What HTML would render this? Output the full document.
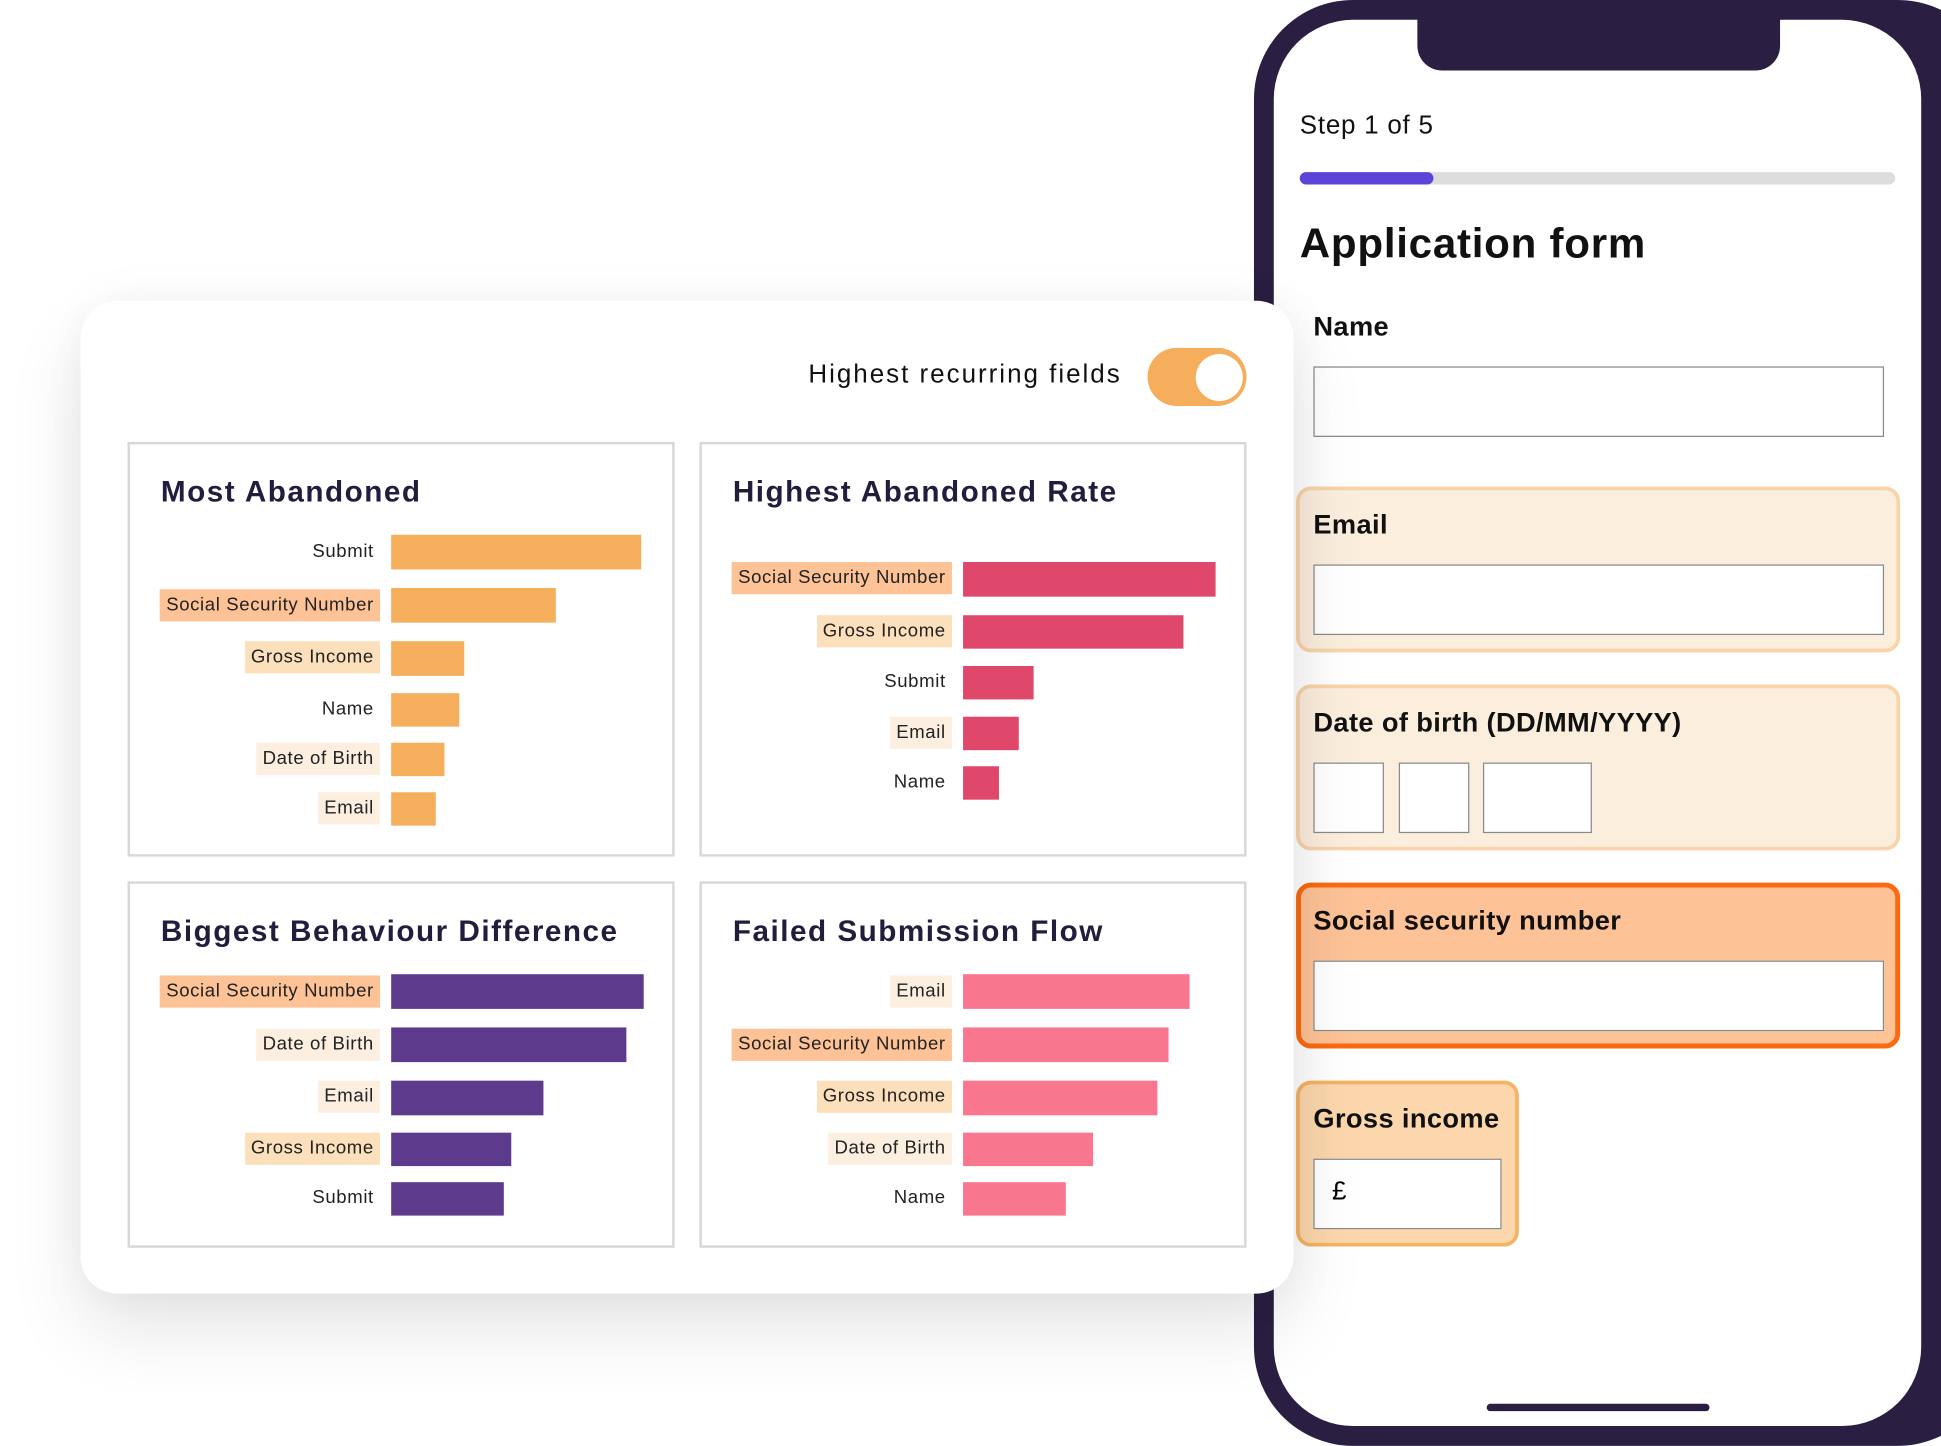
<!DOCTYPE html>
<html><head><meta charset="utf-8"><style>
*{margin:0;padding:0;box-sizing:border-box}
html,body{width:1941px;height:1446px;overflow:hidden;background:#fff;font-family:"Liberation Sans",sans-serif}
#s{position:absolute;left:0;top:0;width:1568px;height:1168px;transform:scale(1.23788);transform-origin:0 0}
.a{position:absolute}
.phone{left:1013px;top:0;width:600px;height:1168px;background:#2a1f42;border-radius:80px}
.screen{left:1029px;top:16px;width:523px;height:1136px;background:#fff;border-radius:64px}
.notch{left:1145px;top:10px;width:293px;height:47px;background:#2a1f42;border-radius:0 0 20px 20px}
.lbl{font-size:22px;font-weight:bold;color:#111;left:1061px;letter-spacing:0.3px}
.inp{background:#fff;border:1.5px solid #8a8a8a}
.fc{border-radius:12px}
.card{left:65px;top:243px;width:980px;height:802px;background:#fff;border-radius:30px;box-shadow:0 30px 60px rgba(0,0,0,.10),0 0 40px rgba(0,0,0,.05)}
.pn{border:2px solid #d8d8dc;background:#fff}
.tt{font-size:24px;font-weight:bold;color:#231c3d;letter-spacing:1.2px}
.r{position:absolute;height:26px;line-height:26px;font-size:15px;color:#222;text-align:right;padding:0 5px;letter-spacing:0.5px}
.b{position:absolute;height:27px}
</style></head><body><div id="s">
<div class="a phone"></div>
<div class="a screen"></div>
<div class="a notch"></div>
<div class="a" style="left:1201px;top:1134px;width:180px;height:6px;background:#2a1f42;border-radius:3px"></div>
<div class="a" style="left:1050px;top:90px;font-size:21px;color:#111;letter-spacing:0.6px">Step 1 of 5</div>
<div class="a" style="left:1050px;top:139px;width:481px;height:10px;background:#ddd;border-radius:5px"></div>
<div class="a" style="left:1050px;top:139px;width:108px;height:10px;background:#5b45d8;border-radius:5px"></div>
<div class="a" style="left:1050px;top:178px;font-size:34px;font-weight:bold;color:#111;letter-spacing:0.6px">Application form</div>
<div class="a lbl" style="top:251px">Name</div>
<div class="a inp" style="left:1061px;top:296px;width:461px;height:57px"></div>
<div class="a fc" style="left:1047px;top:393px;width:488px;height:134px;background:#fbeedd;border:3px solid #f8d4a8"></div>
<div class="a lbl" style="top:411px">Email</div>
<div class="a inp" style="left:1061px;top:456px;width:461px;height:57px"></div>
<div class="a fc" style="left:1047px;top:553px;width:488px;height:134px;background:#fbeedd;border:3px solid #f8d4a8"></div>
<div class="a lbl" style="top:571px">Date of birth (DD/MM/YYYY)</div>
<div class="a inp" style="left:1061px;top:616px;width:57px;height:57px"></div>
<div class="a inp" style="left:1130px;top:616px;width:57px;height:57px"></div>
<div class="a inp" style="left:1198px;top:616px;width:88px;height:57px"></div>
<div class="a fc" style="left:1047px;top:713px;width:488px;height:134px;background:#fec297;border:4px solid #fb6a10"></div>
<div class="a lbl" style="top:731px">Social security number</div>
<div class="a inp" style="left:1061px;top:776px;width:461px;height:57px"></div>
<div class="a fc" style="left:1047px;top:873px;width:180px;height:134px;background:#fcd7ad;border:3px solid #f6b363"></div>
<div class="a lbl" style="top:891px">Gross income</div>
<div class="a inp" style="left:1061px;top:936px;width:152px;height:57px;font-size:21px;padding:14px 0 0 14px">£</div>

<div class="a card"></div>
<div class="a" style="left:653px;top:291px;font-size:21px;color:#111;letter-spacing:1.6px">Highest recurring fields</div>
<div class="a" style="left:927px;top:281px;width:80px;height:47px;background:#f5ae5b;border-radius:24px"></div>
<div class="a" style="left:966px;top:286px;width:38px;height:38px;background:#fff;border-radius:50%"></div>

<div class="a pn" style="left:103px;top:357px;width:442px;height:335px"></div>
<div class="a pn" style="left:565px;top:357px;width:442px;height:335px"></div>
<div class="a pn" style="left:103px;top:712px;width:442px;height:296px"></div>
<div class="a pn" style="left:565px;top:712px;width:442px;height:296px"></div>
<div class="a tt" style="left:130px;top:384px">Most Abandoned</div>
<div class="a tt" style="left:592px;top:384px">Highest Abandoned Rate</div>
<div class="a tt" style="left:130px;top:739px">Biggest Behaviour Difference</div>
<div class="a tt" style="left:592px;top:739px">Failed Submission Flow</div>

<!-- P1 -->
<div class="r" style="right:1261px;top:433px">Submit</div>
<div class="r" style="right:1261px;top:476px;background:#fec297">Social Security Number</div>
<div class="r" style="right:1261px;top:518px;background:#fcdfbb">Gross Income</div>
<div class="r" style="right:1261px;top:560px">Name</div>
<div class="r" style="right:1261px;top:600px;background:#fcefe0">Date of Birth</div>
<div class="r" style="right:1261px;top:640px;background:#fcefe0">Email</div>
<div class="b" style="left:316px;top:432px;width:202px;height:28px;background:#f5ae5b"></div>
<div class="b" style="left:316px;top:475px;width:133px;height:28px;background:#f5ae5b"></div>
<div class="b" style="left:316px;top:518px;width:59px;height:28px;background:#f5ae5b"></div>
<div class="b" style="left:316px;top:560px;width:55px;background:#f5ae5b"></div>
<div class="b" style="left:316px;top:600px;width:43px;background:#f5ae5b"></div>
<div class="b" style="left:316px;top:640px;width:36px;background:#f5ae5b"></div>
<!-- P2 -->
<div class="r" style="right:799px;top:454px;background:#fec297">Social Security Number</div>
<div class="r" style="right:799px;top:497px;background:#fcdfbb">Gross Income</div>
<div class="r" style="right:799px;top:538px">Submit</div>
<div class="r" style="right:799px;top:579px;background:#fcefe0">Email</div>
<div class="r" style="right:799px;top:619px">Name</div>
<div class="b" style="left:778px;top:454px;width:204px;height:28px;background:#e0486b"></div>
<div class="b" style="left:778px;top:497px;width:178px;height:27px;background:#e0486b"></div>
<div class="b" style="left:778px;top:538px;width:57px;background:#e0486b"></div>
<div class="b" style="left:778px;top:579px;width:45px;background:#e0486b"></div>
<div class="b" style="left:778px;top:619px;width:29px;background:#e0486b"></div>
<!-- P3 -->
<div class="r" style="right:1261px;top:788px;background:#fec297">Social Security Number</div>
<div class="r" style="right:1261px;top:831px;background:#fcefe0">Date of Birth</div>
<div class="r" style="right:1261px;top:873px;background:#fcefe0">Email</div>
<div class="r" style="right:1261px;top:915px;background:#fcdfbb">Gross Income</div>
<div class="r" style="right:1261px;top:955px">Submit</div>
<div class="b" style="left:316px;top:787px;width:204px;height:28px;background:#5e3a8c"></div>
<div class="b" style="left:316px;top:830px;width:190px;height:28px;background:#5e3a8c"></div>
<div class="b" style="left:316px;top:873px;width:123px;height:28px;background:#5e3a8c"></div>
<div class="b" style="left:316px;top:915px;width:97px;background:#5e3a8c"></div>
<div class="b" style="left:316px;top:955px;width:91px;background:#5e3a8c"></div>
<!-- P4 -->
<div class="r" style="right:799px;top:788px;background:#fcefe0">Email</div>
<div class="r" style="right:799px;top:831px;background:#fec297">Social Security Number</div>
<div class="r" style="right:799px;top:873px;background:#fcdfbb">Gross Income</div>
<div class="r" style="right:799px;top:915px;background:#fcefe0">Date of Birth</div>
<div class="r" style="right:799px;top:955px">Name</div>
<div class="b" style="left:778px;top:787px;width:183px;height:28px;background:#f9768f"></div>
<div class="b" style="left:778px;top:830px;width:166px;height:28px;background:#f9768f"></div>
<div class="b" style="left:778px;top:873px;width:157px;height:28px;background:#f9768f"></div>
<div class="b" style="left:778px;top:915px;width:105px;background:#f9768f"></div>
<div class="b" style="left:778px;top:955px;width:83px;background:#f9768f"></div>
</div></body></html>
